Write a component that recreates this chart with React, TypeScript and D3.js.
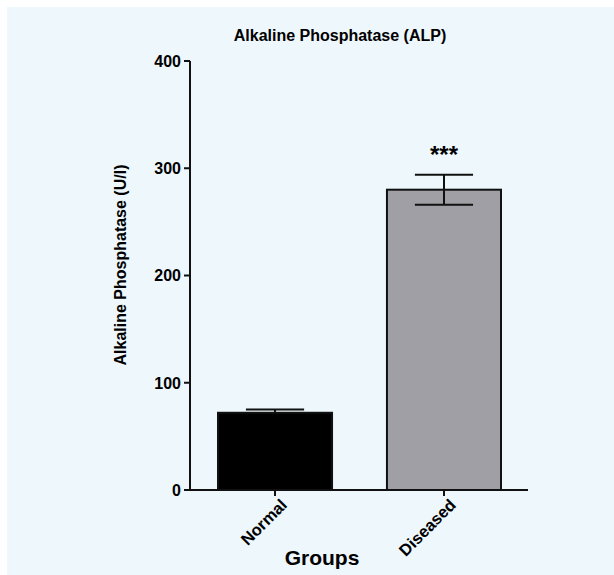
import React from "react";
import * as d3 from "d3";

const categories = ["Normal", "Diseased"];
const means = [72, 280];
const errors = [3, 14];
const barColors = ["#000000", "#a19fa6"];
const significance = ["", "***"];
const yTicks = [0, 100, 200, 300, 400];

const W = 614;
const H = 575;
const FONT = "'Liberation Sans', Arial, sans-serif";

export default function App() {
  const x0 = 190, x1 = 528;
  const y = d3.scaleLinear().domain([0, 400]).range([490, 61]);
  const x = d3.scaleBand().domain(categories).range([218, 501]).paddingInner(0.325).paddingOuter(0);
  const bw = x.bandwidth();
  const cap = bw * 0.51;

  return (
    <svg width={W} height={H} style={{ position: "absolute", left: 0, top: 0 }} fontFamily={FONT}>
      <rect x={0} y={0} width={W} height={H} fill="#ffffff" />
      <rect x={7} y={7} width={W - 7} height={H - 7} fill="#edf7fc" />
      <text x={340} y={41} textAnchor="middle" fontSize={16} fontWeight="bold" fill="#000">
        Alkaline Phosphatase (ALP)
      </text>
      {categories.map((c, i) => {
        const bx = x(c)!;
        const cx = bx + bw / 2;
        const top = y(means[i]);
        const eTop = y(means[i] + errors[i]);
        const eBot = y(means[i] - errors[i]);
        return (
          <g key={c}>
            <rect x={bx} y={top} width={bw} height={y(0) - top} fill={barColors[i]} stroke="#111" strokeWidth={2} />
            <line x1={cx} x2={cx} y1={eTop} y2={i === 0 ? top : eBot} stroke="#111" strokeWidth={2} />
            <line x1={cx - cap / 2} x2={cx + cap / 2} y1={eTop} y2={eTop} stroke="#111" strokeWidth={2} />
            {i > 0 && (
              <line x1={cx - cap / 2} x2={cx + cap / 2} y1={eBot} y2={eBot} stroke="#111" strokeWidth={2} />
            )}
            {significance[i] && (
              <text x={cx} y={eTop - 12} textAnchor="middle" fontSize={24} fontWeight="bold" fill="#000">
                {significance[i]}
              </text>
            )}
            <line x1={cx} x2={cx} y1={y(0)} y2={y(0) + 6} stroke="#111" strokeWidth={2} />
            <text
              transform={`translate(${cx + 13},${y(0) + 16}) rotate(-45)`}
              textAnchor="end"
              fontSize={16.5}
              fontWeight="bold"
              fill="#000"
            >
              {c}
            </text>
          </g>
        );
      })}
      <line x1={x0} x2={x0} y1={y(400)} y2={y(0)} stroke="#111" strokeWidth={2} />
      <line x1={x0} x2={x1} y1={y(0)} y2={y(0)} stroke="#111" strokeWidth={2} />
      {yTicks.map((t) => (
        <g key={t}>
          <line x1={x0 - 6} x2={x0} y1={y(t)} y2={y(t)} stroke="#111" strokeWidth={2} />
          <text x={x0 - 9} y={y(t)} dy="0.36em" textAnchor="end" fontSize={16} fontWeight="bold" fill="#000">
            {t}
          </text>
        </g>
      ))}
      <text
        transform={`translate(126,265) rotate(-90)`}
        textAnchor="middle"
        fontSize={16}
        fontWeight="bold"
        fill="#000"
      >
        Alkaline Phosphatase (U/l)
      </text>
      <text x={322} y={565} textAnchor="middle" fontSize={21} fontWeight="bold" fill="#000">
        Groups
      </text>
    </svg>
  );
}
